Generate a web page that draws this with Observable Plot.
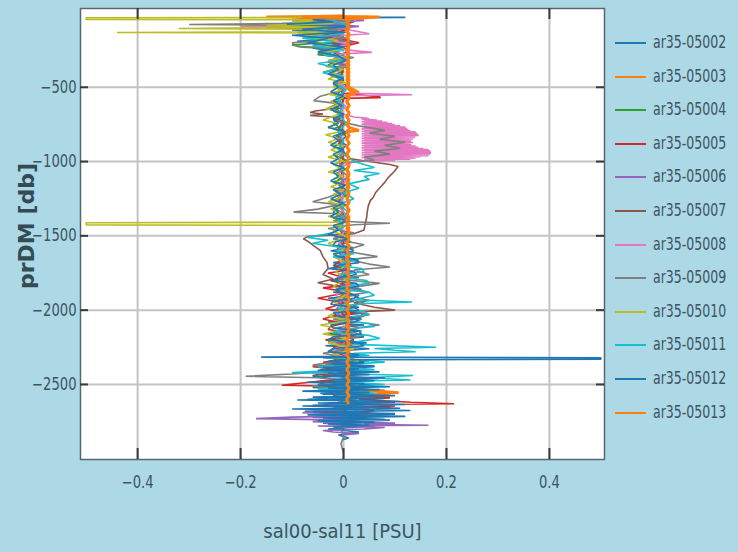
<!DOCTYPE html>
<html>
<head>
<meta charset="utf-8">
<script src="https://cdn.jsdelivr.net/npm/d3@7"></script>
<script src="https://cdn.jsdelivr.net/npm/@observablehq/plot@0.6"></script>
<style>
  html, body { margin: 0; padding: 0; background: #add8e6; }
  #wrap { position: relative; width: 738px; height: 552px; overflow: hidden; background: #add8e6; }
  #legend { position: absolute; left: 612px; top: 0; font-family: "DejaVu Sans Condensed", "DejaVu Sans", sans-serif; font-size: 17px; color: #3c5560; }
  .row { position: absolute; left: 0; height: 20px; width: 126px; white-space: nowrap; }
  .sw { position: absolute; left: 3px; top: 10px; width: 31px; height: 2px; }
  .lb { position: absolute; left: 41px; top: 0px; transform: scaleX(0.82); transform-origin: 0 50%; }
</style>
</head>
<body>
<div id="wrap"><div id="legend"></div></div>
<script>
// ---- data (pressure [db, negative], sal00-sal11 [PSU]) ----
const ids = ["ar35-05002","ar35-05003","ar35-05004","ar35-05005","ar35-05006","ar35-05007","ar35-05008","ar35-05009","ar35-05010","ar35-05011","ar35-05012","ar35-05013"];
const palette = ["#1f77b4","#ff7f0e","#2ca02c","#d62728","#9467bd","#8c564b","#e377c2","#7f7f7f","#bcbd22","#17becf","#1f77b4","#ff7f0e"];
const xTicks = [-0.4, -0.2, 0, 0.2, 0.4];
const yTicks = [-2500, -2000, -1500, -1000, -500];

const s05002 = [[-25,0.0],[-28,0.06],[-30,0.12],[-32,0.03],[-40,-0.04],[-50,0.01],[-60,-0.08],[-70,0.0],[-85,-0.06],[-100,-0.02],[-115,-0.1],[-130,0.005],[-150,-0.07],[-170,-0.015],[-190,-0.09],[-210,0.0],[-235,-0.06],[-260,-0.02],[-280,-0.05],[-300,0.0],[-350,-0.03],[-390,0.0],[-440,-0.01],[-490,0.005],[-540,-0.01],[-590,0.0],[-640,-0.015],[-690,0.0],[-740,-0.02],[-790,0.0],[-840,-0.015],[-890,0.005],[-940,-0.01],[-990,0.0],[-1040,-0.01],[-1090,0.0],[-1140,-0.015],[-1190,0.005],[-1240,-0.01],[-1290,0.0],[-1340,-0.02],[-1390,0.0],[-1440,-0.01],[-1500,0.0],[-1520,-0.02],[-1540,0.015],[-1560,-0.01],[-1580,0.02],[-1600,-0.025],[-1620,0.01],[-1640,-0.015],[-1660,0.025],[-1680,-0.02],[-1700,0.015],[-1720,-0.03],[-1740,0.02],[-1760,-0.01],[-1780,0.03],[-1800,-0.025],[-1820,0.02],[-1840,-0.015],[-1860,0.035],[-1880,-0.02],[-1900,0.025],[-1920,-0.03],[-1940,0.02],[-1960,-0.015],[-1980,0.03],[-2000,-0.025],[-2020,0.035],[-2040,-0.02],[-2060,0.03],[-2080,-0.03],[-2100,0.04],[-2120,-0.02],[-2140,0.035],[-2160,-0.03],[-2180,0.04],[-2200,-0.025],[-2220,0.045],[-2240,-0.035],[-2260,0.05],[-2280,-0.03],[-2300,0.04],[-2320,-0.04],[-2340,0.05],[-2360,-0.035],[-2380,0.06],[-2400,-0.045],[-2420,0.05],[-2440,-0.04],[-2460,0.07],[-2480,-0.05],[-2500,0.06],[-2520,-0.06],[-2540,0.08],[-2560,-0.045],[-2580,0.09],[-2600,-0.07],[-2620,0.1],[-2640,-0.06],[-2660,0.11],[-2680,-0.075],[-2700,0.1],[-2720,-0.06],[-2740,0.09],[-2760,-0.04],[-2780,0.06],[-2800,-0.03],[-2820,0.03],[-2840,-0.01],[-2860,0.01],[-2870,0.0]];
const s05003 = [[-22,0.0],[-26,-0.15],[-29,0.05],[-33,-0.06],[-38,0.02],[-50,-0.03],[-65,0.015],[-80,-0.02],[-100,0.011],[-125,0.006],[-150,0.011],[-175,0.006],[-200,0.011],[-225,0.006],[-250,0.011],[-275,0.006],[-300,0.011],[-325,0.006],[-350,0.011],[-375,0.006],[-400,0.011],[-425,0.006],[-450,0.011],[-475,0.006],[-500,0.011],[-535,0.03],[-545,0.006],[-570,0.011],[-595,0.006],[-620,0.011],[-645,0.006],[-670,0.011],[-695,0.006],[-720,0.011],[-745,0.006],[-770,0.011],[-790,0.03],[-800,0.006],[-825,0.011],[-850,0.006],[-875,0.011],[-900,0.006],[-925,0.011],[-950,0.006],[-975,0.011],[-1000,0.006],[-1030,0.011],[-1060,0.006],[-1090,0.011],[-1120,0.006],[-1150,0.011],[-1180,0.006],[-1210,0.011],[-1240,0.006],[-1270,0.011],[-1300,0.006],[-1330,0.011],[-1360,0.006],[-1390,0.011],[-1420,0.006],[-1450,0.011],[-1480,0.006],[-1510,0.011],[-1540,0.006],[-1570,0.011],[-1600,0.006],[-1630,0.011],[-1660,0.006],[-1690,0.011],[-1720,0.006],[-1750,0.011],[-1780,0.006],[-1810,0.011],[-1840,0.006],[-1870,0.011],[-1900,0.006],[-1930,0.011],[-1960,0.006],[-1990,0.011],[-2020,0.006],[-2050,0.011],[-2080,0.006],[-2110,0.011],[-2140,0.006],[-2170,0.011],[-2200,0.006],[-2230,0.011],[-2260,0.006],[-2290,0.011],[-2320,0.006],[-2350,0.011],[-2380,0.006],[-2410,0.011],[-2440,0.006],[-2470,0.011],[-2500,0.006],[-2530,0.011],[-2545,0.07],[-2555,0.107],[-2565,0.02],[-2575,0.09],[-2585,0.01]];
const s05004 = [[-25,0.0],[-40,-0.03],[-60,0.01],[-90,-0.06],[-110,-0.01],[-130,-0.09],[-150,-0.02],[-170,-0.07],[-190,0.01],[-215,-0.1],[-230,-0.08],[-240,-0.01],[-280,-0.05],[-300,0.0],[-320,-0.03],[-345,0.005],[-370,-0.02],[-395,0.0],[-420,-0.025],[-450,0.0],[-480,-0.015],[-510,0.005],[-540,-0.02],[-570,0.005],[-600,-0.015],[-630,0.0],[-660,-0.02],[-690,0.0],[-720,-0.015],[-750,0.005],[-780,-0.02],[-810,0.005],[-840,-0.015],[-870,0.0],[-900,-0.02],[-930,0.0],[-960,-0.015],[-990,0.005],[-1020,-0.02],[-1050,0.005],[-1080,-0.015],[-1110,0.0],[-1140,-0.02],[-1170,0.0],[-1200,-0.015],[-1230,0.005],[-1260,-0.02],[-1290,0.005],[-1320,-0.015],[-1350,0.0],[-1380,-0.02],[-1410,0.0],[-1440,-0.015],[-1500,0.01],[-1560,-0.01],[-1620,0.015],[-1680,-0.01],[-1740,0.01],[-1800,-0.015],[-1860,0.01],[-1920,-0.01],[-1980,0.015],[-2040,-0.01],[-2100,0.01],[-2160,-0.02],[-2220,0.015],[-2280,-0.01],[-2340,0.02],[-2400,-0.015],[-2460,0.02],[-2520,-0.02],[-2580,0.02],[-2640,-0.02],[-2700,0.01],[-2750,0.0]];
const s05005 = [[-30,0.0],[-45,-0.1],[-60,0.02],[-80,-0.06],[-110,0.01],[-150,-0.04],[-200,0.03],[-250,-0.03],[-300,0.0],[-350,0.0],[-450,-0.005],[-540,0.0],[-565,0.07],[-570,0.072],[-575,0.0],[-650,-0.005],[-750,0.0],[-850,-0.01],[-950,0.0],[-1050,-0.005],[-1150,0.0],[-1250,-0.01],[-1350,0.0],[-1450,-0.005],[-1550,0.0],[-1600,-0.015],[-1650,0.005],[-1700,-0.02],[-1730,0.01],[-1750,-0.03],[-1780,0.0],[-1800,-0.025],[-1830,0.01],[-1850,-0.04],[-1880,0.01],[-1920,-0.05],[-1950,0.0],[-1975,-0.02],[-1990,-0.035],[-2020,0.02],[-2040,-0.02],[-2060,-0.04],[-2090,0.0],[-2110,-0.025],[-2130,-0.03],[-2150,0.01],[-2170,0.02],[-2200,-0.035],[-2220,0.0],[-2240,0.01],[-2260,-0.02],[-2280,-0.03],[-2300,0.0],[-2320,0.02],[-2350,-0.04],[-2365,-0.01],[-2380,-0.06],[-2400,0.0],[-2415,-0.03],[-2430,-0.05],[-2445,0.0],[-2460,0.02],[-2475,-0.04],[-2490,-0.08],[-2505,-0.12],[-2510,-0.04],[-2525,0.0],[-2540,0.03],[-2555,-0.01],[-2570,-0.02],[-2580,0.04],[-2590,0.09],[-2600,0.03],[-2610,0.08],[-2620,0.13],[-2630,0.215],[-2635,0.05],[-2645,0.1],[-2660,-0.02],[-2675,0.06],[-2690,0.04],[-2710,0.0]];
const s05006 = [[-30,0.0],[-50,0.04],[-70,-0.05],[-90,0.03],[-120,-0.07],[-140,0.0],[-170,-0.05],[-200,0.02],[-240,-0.04],[-280,0.0],[-300,0.0],[-400,-0.01],[-500,0.0],[-600,-0.008],[-700,0.0],[-800,-0.01],[-900,0.0],[-1000,-0.008],[-1100,0.0],[-1200,-0.01],[-1300,0.0],[-1400,-0.008],[-1500,0.0],[-1600,-0.01],[-1700,0.005],[-1800,-0.01],[-1900,0.005],[-2000,-0.015],[-2100,0.005],[-2200,-0.015],[-2300,0.01],[-2400,-0.015],[-2500,0.01],[-2560,-0.02],[-2580,0.02],[-2600,-0.01],[-2615,0.03],[-2630,-0.03],[-2645,0.02],[-2660,0.05],[-2675,-0.04],[-2690,-0.08],[-2700,0.03],[-2710,0.06],[-2720,-0.1],[-2730,-0.17],[-2740,0.02],[-2750,-0.06],[-2760,0.1],[-2768,0.04],[-2775,0.165],[-2780,-0.05],[-2790,0.08],[-2800,0.04],[-2810,-0.04],[-2820,-0.02],[-2830,0.03],[-2840,0.0]];
const s05007 = [[-25,0.0],[-50,-0.03],[-80,0.01],[-120,-0.04],[-160,0.0],[-200,-0.02],[-250,0.01],[-300,-0.01],[-350,0.0],[-400,-0.02],[-450,0.0],[-500,-0.01],[-550,0.0],[-600,-0.02],[-640,-0.01],[-660,-0.055],[-670,-0.065],[-680,-0.04],[-690,-0.065],[-700,-0.02],[-730,0.0],[-780,-0.01],[-830,0.005],[-880,-0.01],[-930,0.0],[-980,0.01],[-1000,0.05],[-1020,0.09],[-1033,0.106],[-1060,0.1],[-1080,0.095],[-1107,0.087],[-1140,0.08],[-1175,0.071],[-1210,0.062],[-1240,0.058],[-1263,0.052],[-1300,0.048],[-1340,0.046],[-1375,0.045],[-1420,0.042],[-1460,0.04],[-1485,0.02],[-1495,-0.03],[-1505,-0.07],[-1520,-0.078],[-1535,-0.07],[-1560,-0.06],[-1600,-0.045],[-1640,-0.04],[-1680,-0.032],[-1720,-0.03],[-1760,-0.04],[-1790,-0.02],[-1815,-0.05],[-1840,-0.01],[-1880,0.01],[-1920,0.03],[-1935,0.05],[-1950,0.02],[-1980,0.06],[-2000,0.1],[-2010,0.03],[-2040,0.04],[-2080,0.0],[-2120,0.03],[-2160,-0.01],[-2200,0.02],[-2250,-0.02],[-2300,0.01],[-2350,-0.03],[-2400,0.0],[-2440,-0.06],[-2470,-0.01],[-2500,-0.05],[-2540,0.02],[-2580,-0.02],[-2620,0.03],[-2660,0.0],[-2700,0.01]];
const s05008 = [[-25,0.0],[-40,-0.04],[-60,0.01],[-85,-0.1],[-90,-0.2],[-95,-0.02],[-120,0.02],[-140,0.05],[-150,0.0],[-180,-0.03],[-210,0.01],[-240,-0.02],[-265,0.055],[-275,0.0],[-310,-0.02],[-350,0.01],[-390,-0.03],[-430,0.0],[-470,-0.01],[-510,0.005],[-540,0.03],[-550,0.133],[-556,0.0],[-590,-0.01],[-630,0.005],[-670,-0.01],[-700,0.02],[-706,0.04],[-712,0.05],[-716,0.035],[-720,0.065],[-724,0.04],[-728,0.075],[-732,0.035],[-736,0.085],[-740,0.04],[-744,0.095],[-748,0.035],[-752,0.1],[-756,0.04],[-760,0.11],[-764,0.035],[-768,0.12],[-772,0.04],[-776,0.123],[-780,0.035],[-784,0.125],[-788,0.04],[-792,0.13],[-796,0.035],[-800,0.14],[-804,0.04],[-808,0.142],[-812,0.035],[-816,0.145],[-820,0.04],[-824,0.146],[-828,0.035],[-832,0.14],[-836,0.04],[-840,0.138],[-844,0.035],[-848,0.135],[-852,0.04],[-856,0.13],[-860,0.035],[-864,0.132],[-868,0.04],[-872,0.135],[-876,0.035],[-880,0.13],[-884,0.04],[-888,0.132],[-892,0.035],[-896,0.14],[-900,0.04],[-904,0.145],[-908,0.035],[-912,0.155],[-916,0.04],[-920,0.165],[-924,0.035],[-928,0.168],[-932,0.04],[-936,0.17],[-940,0.035],[-944,0.17],[-948,0.04],[-952,0.168],[-956,0.035],[-960,0.165],[-964,0.04],[-968,0.15],[-972,0.035],[-976,0.14],[-980,0.04],[-984,0.13],[-988,0.04],[-992,0.1],[-996,0.05],[-1000,0.02],[-1030,0.0],[-1080,-0.01],[-1130,0.005],[-1180,-0.01],[-1240,0.0],[-1300,-0.01],[-1360,0.005],[-1420,-0.01],[-1480,0.0],[-1540,-0.01],[-1600,0.005],[-1660,-0.01],[-1720,0.01],[-1780,-0.01],[-1840,0.01],[-1900,-0.015],[-1960,0.01],[-2020,-0.01],[-2080,0.015],[-2140,-0.01],[-2200,0.01],[-2260,-0.015],[-2320,0.01],[-2380,-0.01],[-2440,0.015],[-2500,-0.01],[-2560,0.01],[-2620,-0.01],[-2650,0.0]];
const s05009 = [[-25,0.0],[-40,-0.05],[-55,0.02],[-70,-0.12],[-78,-0.3],[-84,-0.05],[-100,-0.15],[-110,0.0],[-140,-0.06],[-170,0.01],[-200,-0.1],[-225,-0.09],[-240,0.0],[-270,-0.05],[-300,0.02],[-330,-0.03],[-360,0.01],[-400,-0.04],[-440,0.0],[-480,-0.02],[-520,0.0],[-560,-0.045],[-590,-0.058],[-610,-0.01],[-640,-0.03],[-680,0.0],[-720,-0.02],[-760,0.03],[-790,0.08],[-810,0.05],[-830,0.1],[-850,0.07],[-870,0.12],[-890,0.08],[-910,0.11],[-930,0.06],[-950,0.09],[-970,0.04],[-990,0.06],[-1010,0.0],[-1050,-0.01],[-1100,0.01],[-1150,-0.01],[-1200,0.0],[-1240,-0.03],[-1270,-0.06],[-1290,-0.01],[-1320,-0.05],[-1340,-0.097],[-1350,-0.02],[-1380,0.01],[-1400,-0.02],[-1415,0.09],[-1425,0.02],[-1450,-0.03],[-1480,0.02],[-1520,-0.02],[-1560,0.04],[-1600,0.0],[-1640,0.066],[-1660,0.01],[-1690,0.05],[-1710,0.09],[-1730,0.02],[-1760,0.05],[-1790,-0.01],[-1820,0.07],[-1850,0.01],[-1880,0.05],[-1910,-0.01],[-1950,0.04],[-1990,0.0],[-2030,0.05],[-2060,-0.02],[-2100,0.07],[-2130,0.0],[-2170,0.04],[-2210,-0.03],[-2250,0.03],[-2290,-0.04],[-2330,0.02],[-2370,-0.06],[-2400,0.01],[-2430,-0.1],[-2445,-0.19],[-2455,-0.05],[-2480,0.02],[-2510,-0.06],[-2550,0.04],[-2590,-0.03],[-2630,0.03],[-2670,-0.02],[-2710,0.02],[-2750,0.0],[-2800,-0.005],[-2850,0.0],[-2900,-0.005],[-2960,0.0]];
const s05010 = [[-25,0.0],[-30,-0.02],[-32,-0.5],[-43,-0.5],[-46,-0.03],[-60,-0.1],[-70,-0.02],[-85,-0.15],[-95,-0.03],[-105,-0.32],[-110,-0.04],[-128,-0.02],[-131,-0.44],[-135,-0.03],[-160,-0.08],[-185,-0.01],[-210,-0.06],[-240,0.0],[-270,-0.04],[-300,0.005],[-320,-0.03],[-340,-0.01],[-360,-0.035],[-380,0.0],[-400,-0.025],[-420,-0.01],[-445,-0.03],[-470,0.005],[-495,-0.02],[-520,-0.005],[-545,-0.03],[-570,0.0],[-595,-0.025],[-620,-0.01],[-645,-0.035],[-670,0.0],[-695,-0.02],[-720,-0.04],[-745,-0.01],[-770,-0.03],[-795,0.0],[-820,-0.035],[-845,-0.01],[-870,-0.03],[-895,0.0],[-920,-0.025],[-945,-0.005],[-970,-0.03],[-995,0.0],[-1020,-0.02],[-1045,-0.005],[-1070,-0.03],[-1095,0.0],[-1120,-0.02],[-1145,-0.005],[-1170,-0.025],[-1195,0.0],[-1220,-0.02],[-1245,-0.005],[-1270,-0.03],[-1295,0.0],[-1320,-0.025],[-1345,-0.005],[-1370,-0.03],[-1390,0.0],[-1408,-0.01],[-1412,-0.5],[-1426,-0.5],[-1430,0.0],[-1470,-0.02],[-1510,0.01],[-1550,-0.03],[-1590,0.0],[-1640,-0.02],[-1690,0.01],[-1740,-0.015],[-1790,0.005],[-1840,-0.02],[-1890,0.01],[-1940,-0.02],[-1990,0.0],[-2040,-0.03],[-2070,0.01],[-2100,-0.045],[-2130,0.0],[-2160,-0.04],[-2190,0.01],[-2220,-0.03],[-2260,0.02],[-2300,-0.02],[-2340,0.03],[-2380,-0.01],[-2420,0.04],[-2460,0.0],[-2500,0.03],[-2540,-0.01],[-2580,0.02],[-2620,0.0]];
const s05011 = [[-30,0.0],[-50,-0.03],[-80,0.01],[-110,-0.05],[-140,0.0],[-170,-0.08],[-190,-0.02],[-220,-0.06],[-250,0.0],[-280,-0.04],[-310,0.01],[-340,-0.05],[-370,-0.01],[-400,-0.04],[-430,0.0],[-470,-0.02],[-520,0.005],[-570,-0.015],[-620,0.0],[-680,-0.01],[-740,0.005],[-800,-0.01],[-860,0.0],[-920,-0.01],[-980,0.01],[-1010,0.03],[-1040,0.06],[-1060,0.02],[-1080,0.07],[-1100,0.04],[-1120,0.05],[-1150,0.01],[-1180,0.03],[-1210,0.0],[-1250,0.02],[-1290,-0.01],[-1340,0.01],[-1390,-0.01],[-1440,0.0],[-1480,-0.02],[-1510,-0.07],[-1530,-0.03],[-1550,-0.06],[-1580,0.0],[-1600,-0.015],[-1620,0.02],[-1640,-0.02],[-1660,0.03],[-1680,0.0],[-1700,-0.01],[-1720,0.035],[-1740,0.04],[-1760,-0.005],[-1780,0.0],[-1800,0.045],[-1820,0.05],[-1840,0.0],[-1860,-0.01],[-1880,0.05],[-1900,0.06],[-1930,0.02],[-1945,0.133],[-1955,0.04],[-1970,0.0],[-1990,-0.01],[-2010,0.04],[-2030,0.05],[-2050,0.01],[-2070,0.0],[-2090,0.05],[-2110,0.06],[-2130,0.0],[-2150,-0.02],[-2170,0.05],[-2190,0.07],[-2210,0.03],[-2230,0.02],[-2250,0.18],[-2258,0.06],[-2270,0.1],[-2280,0.14],[-2290,0.02],[-2305,0.05],[-2320,-0.03],[-2335,0.04],[-2350,0.08],[-2365,0.0],[-2380,-0.05],[-2390,0.02],[-2400,0.06],[-2410,-0.04],[-2420,-0.1],[-2430,0.02],[-2440,0.135],[-2455,0.05],[-2470,0.13],[-2480,-0.02],[-2490,0.04],[-2500,0.08],[-2515,0.0],[-2530,-0.05],[-2545,0.02],[-2560,0.06],[-2575,0.0],[-2590,-0.03],[-2605,0.02],[-2620,0.04],[-2635,0.0],[-2650,-0.02],[-2665,0.03],[-2680,0.02],[-2700,0.0]];
const s05012 = [[-30,0.0],[-45,-0.06],[-60,-0.02],[-75,-0.11],[-90,0.01],[-110,-0.08],[-130,0.0],[-150,-0.1],[-170,-0.03],[-200,-0.07],[-230,0.0],[-260,-0.05],[-290,-0.01],[-320,0.005],[-350,-0.02],[-380,-0.01],[-410,-0.03],[-440,0.0],[-470,-0.02],[-500,-0.01],[-530,-0.025],[-560,0.0],[-590,-0.02],[-620,-0.005],[-650,-0.025],[-680,0.0],[-710,-0.02],[-740,-0.01],[-770,-0.03],[-800,0.005],[-830,-0.02],[-860,-0.01],[-890,-0.025],[-920,0.0],[-950,-0.02],[-980,-0.01],[-1010,-0.025],[-1040,0.0],[-1070,-0.02],[-1100,-0.01],[-1130,-0.025],[-1160,0.005],[-1190,-0.02],[-1220,-0.005],[-1250,-0.025],[-1280,0.0],[-1310,-0.02],[-1340,-0.01],[-1370,-0.025],[-1400,0.01],[-1430,-0.02],[-1460,-0.01],[-1490,-0.03],[-1520,0.01],[-1540,-0.015],[-1560,-0.02],[-1580,0.01],[-1600,0.02],[-1620,-0.02],[-1640,-0.01],[-1660,0.025],[-1680,0.03],[-1700,-0.015],[-1720,-0.02],[-1740,0.02],[-1760,0.025],[-1780,-0.01],[-1800,-0.02],[-1820,0.025],[-1840,0.03],[-1860,-0.015],[-1880,-0.01],[-1900,0.03],[-1920,0.02],[-1940,-0.02],[-1960,-0.025],[-1980,0.02],[-2000,0.03],[-2020,-0.02],[-2040,-0.01],[-2060,0.035],[-2080,0.02],[-2100,-0.025],[-2120,-0.02],[-2140,0.03],[-2160,0.035],[-2180,-0.02],[-2200,-0.03],[-2220,0.03],[-2240,0.04],[-2260,-0.02],[-2280,-0.03],[-2300,0.03],[-2310,0.02],[-2316,-0.16],[-2320,0.5],[-2330,0.5],[-2334,0.01],[-2345,-0.03],[-2355,0.04],[-2365,-0.02],[-2375,0.06],[-2385,-0.04],[-2395,0.03],[-2405,-0.05],[-2415,0.07],[-2425,-0.03],[-2435,0.05],[-2445,-0.06],[-2455,0.08],[-2465,-0.02],[-2475,0.06],[-2485,-0.07],[-2495,0.04],[-2505,-0.05],[-2515,0.09],[-2525,-0.03],[-2535,0.07],[-2545,-0.08],[-2555,0.05],[-2565,-0.04],[-2575,0.1],[-2585,-0.06],[-2595,0.08],[-2605,-0.09],[-2615,0.11],[-2625,-0.05],[-2635,0.12],[-2645,-0.08],[-2655,0.09],[-2665,-0.1],[-2675,0.13],[-2685,-0.06],[-2695,0.1],[-2705,-0.07],[-2715,0.12],[-2725,-0.04],[-2735,0.08],[-2745,-0.05],[-2755,0.06],[-2765,-0.03],[-2775,0.05],[-2785,-0.02],[-2800,0.0]];
const s05013 = [[-20,0.0],[-24,-0.05],[-26,0.07],[-29,-0.08],[-31,0.06],[-34,-0.03],[-37,0.04],[-40,0.0],[-50,0.012],[-60,0.006],[-75,0.011],[-90,0.006],[-105,0.011],[-120,0.006],[-140,0.011],[-160,0.006],[-180,0.011],[-200,0.006],[-225,0.011],[-250,0.006],[-275,0.011],[-300,0.006],[-325,0.011],[-350,0.006],[-375,0.011],[-400,0.006],[-425,0.011],[-450,0.006],[-475,0.011],[-500,0.006],[-520,0.012],[-540,0.024],[-555,0.006],[-575,0.011],[-600,0.006],[-625,0.011],[-650,0.006],[-675,0.011],[-700,0.006],[-725,0.011],[-750,0.006],[-775,0.011],[-800,0.006],[-825,0.011],[-850,0.006],[-875,0.011],[-900,0.006],[-925,0.011],[-950,0.006],[-975,0.011],[-1000,0.006],[-1025,0.011],[-1050,0.006],[-1075,0.011],[-1100,0.006],[-1125,0.011],[-1150,0.006],[-1175,0.011],[-1200,0.006],[-1225,0.011],[-1250,0.006],[-1275,0.011],[-1300,0.006],[-1325,0.011],[-1350,0.006],[-1375,0.011],[-1400,0.006],[-1425,0.011],[-1450,0.006],[-1475,0.011],[-1500,0.006],[-1525,0.011],[-1550,0.006],[-1575,0.011],[-1600,0.006],[-1625,0.011],[-1650,0.006],[-1675,0.011],[-1700,0.006],[-1725,0.011],[-1750,0.006],[-1775,0.011],[-1800,0.006],[-1825,0.011],[-1850,0.006],[-1875,0.011],[-1900,0.006],[-1925,0.011],[-1950,0.006],[-1975,0.011],[-2000,0.006],[-2025,0.011],[-2050,0.006],[-2075,0.011],[-2100,0.006],[-2125,0.011],[-2150,0.006],[-2175,0.011],[-2200,0.006],[-2225,0.011],[-2250,0.006],[-2275,0.011],[-2300,0.006],[-2325,0.011],[-2350,0.006],[-2375,0.011],[-2400,0.006],[-2425,0.011],[-2450,0.006],[-2475,0.011],[-2500,0.006],[-2525,0.011],[-2550,0.006],[-2575,0.011],[-2600,0.006],[-2625,0.009]];

const seriesList = [s05002, s05003, s05004, s05005, s05006, s05007, s05008, s05009, s05010, s05011, s05012, s05013];
const thickSeries = ["ar35-05003", "ar35-05013"];

// ---- build ----
const data = seriesList.flatMap((s, i) => s.map(([p, v]) => ({id: ids[i], p, v})));
const fmt = d => d === 0 ? "0" : (d < 0 ? "\u2212" : "") + Math.abs(d);
const txtColor = "#3c5560";
const font = "'DejaVu Sans Condensed', 'DejaVu Sans', sans-serif";

const chart = Plot.plot({
  width: 738, height: 552,
  marginLeft: 80, marginRight: 134, marginTop: 8, marginBottom: 93,
  x: {domain: [-0.511, 0.507], axis: null},
  y: {domain: [-3005, 30], axis: null},
  color: {domain: ids, range: palette},
  style: {background: "#add8e6", fontFamily: font, overflow: "visible"},
  marks: [
    Plot.frame({fill: "white", stroke: "none"}),
    Plot.gridX(xTicks, {stroke: "#c4c4c4", strokeWidth: 2, strokeOpacity: 1}),
    Plot.gridY(yTicks, {stroke: "#c4c4c4", strokeWidth: 2, strokeOpacity: 1}),
    Plot.line(data, {x: "v", y: "p", z: "id", stroke: "id", strokeWidth: d => thickSeries.includes(d.id) ? 2.8 : 1.6, strokeLinejoin: "miter"}),
    Plot.frame({stroke: "#5a676c", strokeWidth: 1.5}),
    Plot.ruleX(xTicks, {x: d => d, insetTop: 440, stroke: "#3a3a3a", strokeWidth: 2}),
    Plot.ruleX(xTicks, {x: d => d, insetBottom: 440, stroke: "#3a3a3a", strokeWidth: 2}),
    Plot.ruleY(yTicks, {y: d => d, insetRight: 516, stroke: "#3a3a3a", strokeWidth: 2}),
    Plot.ruleY(yTicks, {y: d => d, insetLeft: 516, stroke: "#3a3a3a", strokeWidth: 2}),
    Plot.axisX(xTicks, {label: null, tickSize: 0, tickPadding: 16, tickFormat: fmt, fontSize: 17, fill: txtColor, fontFamily: font}),
    Plot.axisY(yTicks, {label: null, tickSize: 0, tickPadding: 4, tickFormat: fmt, fontSize: 17, fill: txtColor, fontFamily: font}),
    Plot.text(["sal00-sal11 [PSU]"], {frameAnchor: "bottom", dy: 78, fontSize: 20, fill: txtColor, fontFamily: font, ariaLabel: "xlabel"}),
    Plot.text(["prDM [db]"], {frameAnchor: "left", textAnchor: "middle", dx: -54, dy: -8, rotate: -90, fontSize: 22, fontWeight: "bold", fill: "#334b55", fontFamily: "'DejaVu Sans', sans-serif", ariaLabel: "ylabel"})
  ]
});
const wrap = document.getElementById("wrap");
wrap.insertBefore(chart, wrap.firstChild);

// horizontally condense texts to match the reference's narrow lettering
function squeeze(sel, k) {
  chart.querySelectorAll(sel).forEach(t => {
    const L = t.getComputedTextLength();
    if (L > 0) { t.setAttribute("textLength", (L * k).toFixed(1)); t.setAttribute("lengthAdjust", "spacingAndGlyphs"); }
  });
}
squeeze('g[aria-label="x-axis tick label"] text', 0.86);
squeeze('g[aria-label="y-axis tick label"] text', 0.86);
squeeze('g[aria-label="xlabel"] text', 0.89);

// legend
const legend = document.getElementById("legend");
ids.forEach((id, i) => {
  const row = document.createElement("div");
  row.className = "row";
  row.style.top = (32 + i * 33.6) + "px";
  const sw = document.createElement("span");
  sw.className = "sw";
  sw.style.background = palette[i];
  const lb = document.createElement("span");
  lb.className = "lb";
  lb.textContent = id;
  row.appendChild(sw); row.appendChild(lb);
  legend.appendChild(row);
});
</script>
</body>
</html>
